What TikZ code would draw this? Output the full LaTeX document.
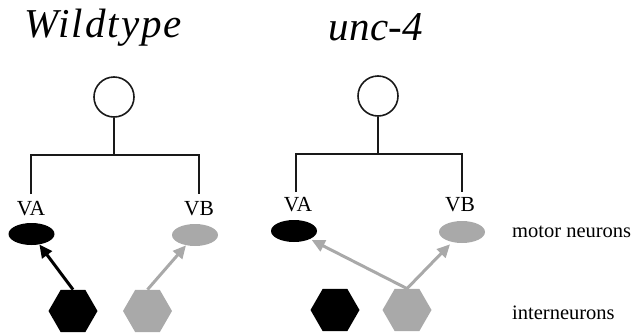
\documentclass[tikz,border=0pt]{standalone}
\usepackage{fontspec}
\setmainfont{Liberation Serif}
\usetikzlibrary{shapes.geometric,arrows.meta}
\definecolor{lgray}{HTML}{A9A9A9}
\tikzset{
  tree/.style={line width=2.2pt, draw=black!90},
  soma/.style={circle, draw=black!90, line width=1.6pt, minimum size=40pt, inner sep=0pt},
  motor/.style={ellipse, minimum width=46pt, minimum height=22pt, inner sep=0pt},
  inter/.style={regular polygon, regular polygon sides=6, minimum size=49pt, inner sep=0pt},
  title/.style={font=\fontsize{41}{44}\selectfont\itshape, inner sep=0pt},
  lab/.style={font=\fontsize{21.5}{24}\selectfont, inner sep=0pt},
  side/.style={font=\fontsize{20.5}{22}\selectfont, inner sep=0pt, anchor=base west},
  syn/.style={line width=3pt, -{Triangle[length=13pt,width=12pt]}},
}
\begin{document}
\begin{tikzpicture}[x=1pt,y=-1pt]
\useasboundingbox (0,0) rectangle (637,335);
% titles
\node[title, anchor=base west] (t1) at (24,37) {\addfontfeature{LetterSpace=5}Wildtype};
\node[title, anchor=base] (t2) at (376,40) {\addfontfeature{LetterSpace=1}unc-4};
% ---------- left panel ----------
\node[soma] (s1) at (114,97) {};
\coordinate (j1) at (114,155);
\coordinate (j1a) at (31,155);
\coordinate (j1b) at (199,155);
\coordinate (e1a) at (31,194);
\coordinate (e1b) at (199,194);
\draw[tree] (s1.south) -- (j1);
\draw[tree] (e1a) -- (j1a) -- (j1b) -- (e1b);
\node[lab, anchor=base] (la1) at (31,215) {VA};
\node[lab, anchor=base] (lb1) at (199,215) {VB};
\node[motor, fill=black] (va1) at (31.5,234) {};
\node[motor, fill=lgray] (vb1) at (195,235) {};
\node[inter, fill=black] (h1a) at (73,311) {};
\node[inter, fill=lgray] (h1b) at (147.5,311) {};
\draw[syn, black] (h1a.north) -- (va1);
\draw[syn, lgray] (h1b.north) -- (vb1);
% ---------- right panel ----------
\node[soma] (s2) at (378,96) {};
\coordinate (j2) at (378,154);
\coordinate (j2a) at (296,154);
\coordinate (j2b) at (462,154);
\coordinate (e2a) at (296,192);
\coordinate (e2b) at (462,192);
\draw[tree] (s2.south) -- (j2);
\draw[tree] (e2a) -- (j2a) -- (j2b) -- (e2b);
\node[lab, anchor=base] (la2) at (298,211) {VA};
\node[lab, anchor=base] (lb2) at (460,211) {VB};
\node[motor, fill=black] (va2) at (294,231) {};
\node[motor, fill=lgray] (vb2) at (462,232) {};
\node[inter, fill=black] (h2a) at (335,310) {};
\node[inter, fill=lgray] (h2b) at (407,310) {};
\draw[syn, lgray, shorten >=2pt] (h2b.north) -- (va2);
\draw[syn, lgray, shorten >=3pt] (h2b.north) -- (vb2);
% side labels
\node[side] (mn) at (512,237) {motor neurons};
\node[side] (in) at (512,319) {interneurons};
\end{tikzpicture}
\end{document}
